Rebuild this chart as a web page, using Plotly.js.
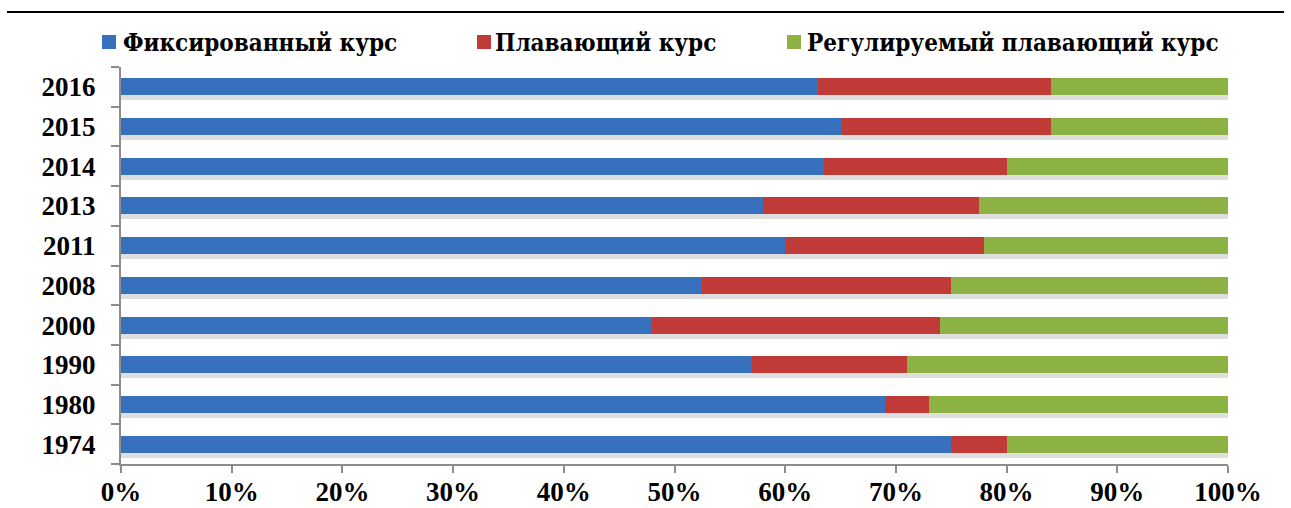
<!DOCTYPE html>
<html>
<head>
<meta charset="utf-8">
<script src="https://cdn.plot.ly/plotly-3.0.1.min.js"></script>
<style>html,body{margin:0;padding:0;background:#fff;}#chart{width:1291px;height:508px;}</style>
</head>
<body>
<div id="chart"></div>
<script>
// Data
const years = ['1974','1980','1990','2000','2008','2011','2013','2014','2015','2016'];
const fixedRate    = [75, 69, 57, 48, 52.5, 60, 58, 63.5, 65, 63];
const floatingRate = [5, 4, 14, 26, 22.5, 18, 19.5, 16.5, 19, 21];
const managedRate  = [20, 27, 29, 26, 25, 22, 22.5, 20, 16, 16];
const seriesNames = ['Фиксированный курс', 'Плавающий курс', 'Регулируемый плавающий курс'];
const xTicks = [0,10,20,30,40,50,60,70,80,90,100];
const xTickText = xTicks.map(v => v + '%');

// Layout geometry
const W = 1291, H = 508;
const M = {l: 121, r: 63, t: 67, b: 44};
const plotW = W - M.l - M.r, plotH = H - M.t - M.b;
const px = x => (x - M.l) / plotW;
const py = y => (H - M.b - y) / plotH;

const colors = ['#3770BC', '#C03A37', '#8BB243'];
const FONT = 'Liberation Serif';
const LEGEND_FONT = 'DejaVu Serif Condensed';

const totals = years.map((_, i) => fixedRate[i] + floatingRate[i] + managedRate[i]);
const shadowShift = 5 / (plotH / years.length);

const traces = [
  {type:'bar', orientation:'h', y: years, x: totals, yaxis:'y',
   marker:{color:'rgba(0,0,0,0.13)'}, hoverinfo:'skip', showlegend:false},
  {type:'bar', orientation:'h', y: years, x: fixedRate, name: seriesNames[0], yaxis:'y2',
   marker:{color: colors[0], line:{width:0}}},
  {type:'bar', orientation:'h', y: years, x: floatingRate, name: seriesNames[1], yaxis:'y2',
   marker:{color: colors[1], line:{width:0}}},
  {type:'bar', orientation:'h', y: years, x: managedRate, name: seriesNames[2], yaxis:'y2',
   marker:{color: colors[2], line:{width:0}}}
];

// legend built from series names
const legendSquares = [102, 477, 787];
const legendText = [121, 493, 805];
const shapes = [
  {type:'line', xref:'paper', yref:'paper', x0: px(7), x1: px(1284), y0: py(12), y1: py(12),
   line:{color:'#000', width:2}}
];
const annotations = [];
seriesNames.forEach((n, i) => {
  shapes.push({type:'rect', xref:'paper', yref:'paper',
    x0: px(legendSquares[i]), x1: px(legendSquares[i] + 14),
    y0: py(49), y1: py(35), fillcolor: colors[i], line:{width:0}});
  annotations.push({xref:'paper', yref:'paper', x: px(legendText[i]), y: py(42),
    xanchor:'left', yanchor:'middle', showarrow:false, text: '<b>' + n + '</b>',
    font:{family: LEGEND_FONT, size: 24, color:'#000'}});
});

const layout = {
  width: W, height: H,
  margin: M,
  paper_bgcolor:'#fff', plot_bgcolor:'#fff',
  barmode:'stack', bargap: 0.57,
  showlegend:false,
  xaxis:{range:[0,100], tickvals: xTicks, ticktext: xTickText, showgrid:false, zeroline:false,
    showline:true, linecolor:'#8c8c8c', linewidth:2, ticks:'outside', ticklen:7, tickwidth:2, tickcolor:'#8c8c8c',
    tickfont:{family: FONT, size: 27, color:'#000', weight:'bold'}, ticklabelstandoff: -4, fixedrange:true},
  yaxis:{type:'category', categoryorder:'array', categoryarray: years,
    range:[-0.5 + shadowShift, years.length - 0.5 + shadowShift],
    showticklabels:false, showgrid:false, zeroline:false, showline:false, ticks:''},
  yaxis2:{type:'category', categoryorder:'array', categoryarray: years, overlaying:'y', side:'left',
    range:[-0.5, years.length - 0.5], showgrid:false, zeroline:false,
    showline:true, linecolor:'#8c8c8c', linewidth:2, ticks:'outside', ticklen:8, tickwidth:2, tickcolor:'#8c8c8c',
    tickson:'boundaries', ticklabelstandoff: 18,
    tickfont:{family: FONT, size: 27, color:'#000', weight:'bold'}},
  shapes: shapes,
  annotations: annotations
};

Plotly.newPlot('chart', traces, layout, {displayModeBar:false, staticPlot:true});
</script>
</body>
</html>
